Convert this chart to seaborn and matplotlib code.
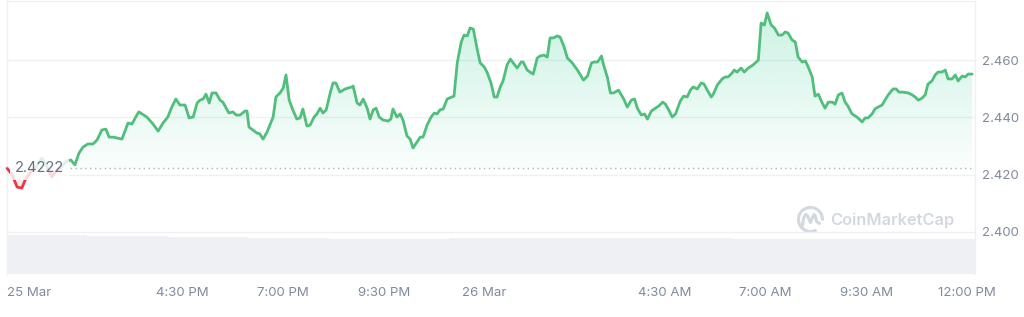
import numpy as np
import matplotlib
matplotlib.use("Agg")
import matplotlib.pyplot as plt
import seaborn as sns
from matplotlib.patches import Rectangle, Arc
from matplotlib.path import Path
from matplotlib.transforms import IdentityTransform, blended_transform_factory

# ---------------- data (hours since 00:00, 25 Mar) ----------------
hours = [12.13, 12.26, 12.38, 12.50, 12.58, 12.70, 12.83, 13.00, 13.13, 13.25,
         13.37, 13.50, 13.62, 13.72, 13.82, 13.92, 14.02, 14.14, 14.27, 14.37,
         14.49, 14.59, 14.67, 14.77, 14.87, 14.99, 15.14, 15.24, 15.36, 15.41,
         15.61, 15.76, 15.89, 16.01, 16.13, 16.23, 16.33, 16.43, 16.56, 16.66,
         16.76, 16.86, 16.93, 17.01, 17.08, 17.16, 17.23, 17.33, 17.43, 17.50,
         17.65, 17.75, 17.83, 17.93, 18.05, 18.10, 18.15, 18.35, 18.42, 18.50,
         18.60, 18.75, 18.82, 18.92, 19.00, 19.07, 19.15, 19.24, 19.34, 19.42,
         19.49, 19.59, 19.67, 19.77, 19.84, 19.92, 19.99, 20.07, 20.17, 20.24,
         20.31, 20.41, 20.54, 20.61, 20.71, 20.74, 20.84, 20.91, 20.99, 21.09,
         21.16, 21.24, 21.31, 21.39, 21.48, 21.61, 21.68, 21.73, 21.83, 21.91,
         21.98, 22.08, 22.16, 22.23, 22.41, 22.48, 22.58, 22.68, 22.76, 22.83,
         22.90, 22.98, 23.08, 23.20, 23.25, 23.33, 23.43, 23.50, 23.58, 23.65,
         23.73, 23.83, 23.90, 24.00, 24.07, 24.17, 24.25, 24.32, 24.40, 24.47,
         24.57, 24.65, 24.72, 24.82, 24.92, 24.97, 25.07, 25.14, 25.22, 25.32,
         25.39, 25.49, 25.57, 25.64, 25.72, 25.82, 25.89, 25.99, 26.07, 26.19,
         26.32, 26.47, 26.57, 26.67, 26.74, 26.82, 26.92, 26.97, 27.07, 27.14,
         27.22, 27.34, 27.46, 27.56, 27.66, 27.74, 27.81, 27.91, 27.99, 28.06,
         28.16, 28.26, 28.34, 28.44, 28.51, 28.59, 28.68, 28.76, 28.88, 28.96,
         29.05, 29.13, 29.20, 29.30, 29.40, 29.47, 29.55, 29.65, 29.70, 29.80,
         29.92, 30.00, 30.07, 30.17, 30.22, 30.29, 30.39, 30.47, 30.57, 30.69,
         30.77, 30.82, 30.89, 30.97, 31.04, 31.14, 31.22, 31.32, 31.41, 31.49,
         31.56, 31.66, 31.74, 31.81, 31.91, 31.99, 32.06, 32.16, 32.23, 32.31,
         32.41, 32.48, 32.56, 32.66, 32.73, 32.81, 32.90, 32.98, 33.05, 33.15,
         33.23, 33.30, 33.40, 33.48, 33.55, 33.65, 33.72, 33.80, 33.90, 33.97,
         34.05, 34.17, 34.25, 34.32, 34.42, 34.55, 34.65, 34.72, 34.80, 34.89,
         34.97, 35.04, 35.14, 35.22, 35.29, 35.39, 35.47, 35.54, 35.64, 35.72,
         35.79, 35.89, 35.97, 36.04, 36.14]

price = [2.4223, 2.4199, 2.4157, 2.4153, 2.4181, 2.4206, 2.4223, 2.4258, 2.4227, 2.4192,
         2.4216, 2.4230, 2.4248, 2.4251, 2.4234, 2.4275, 2.4296, 2.4307, 2.4307, 2.4321,
         2.4356, 2.4359, 2.4331, 2.4331, 2.4328, 2.4324, 2.4380, 2.4377, 2.4408, 2.4419,
         2.4401, 2.4377, 2.4352, 2.4380, 2.4401, 2.4436, 2.4464, 2.4443, 2.4443, 2.4398,
         2.4401, 2.4450, 2.4460, 2.4464, 2.4481, 2.4450, 2.4485, 2.4485, 2.4460, 2.4453,
         2.4415, 2.4419, 2.4408, 2.4408, 2.4422, 2.4422, 2.4366, 2.4345, 2.4342, 2.4324,
         2.4349, 2.4401, 2.4471, 2.4485, 2.4502, 2.4548, 2.4460, 2.4426, 2.4394, 2.4398,
         2.4429, 2.4370, 2.4373, 2.4401, 2.4412, 2.4432, 2.4415, 2.4426, 2.4485, 2.4520,
         2.4520, 2.4488, 2.4499, 2.4502, 2.4506, 2.4509, 2.4450, 2.4443, 2.4464, 2.4432,
         2.4394, 2.4426, 2.4432, 2.4401, 2.4391, 2.4387, 2.4394, 2.4429, 2.4401, 2.4412,
         2.4391, 2.4335, 2.4324, 2.4293, 2.4331, 2.4331, 2.4373, 2.4401, 2.4415, 2.4412,
         2.4426, 2.4429, 2.4464, 2.4471, 2.4474, 2.4590, 2.4663, 2.4687, 2.4684, 2.4712,
         2.4708, 2.4635, 2.4590, 2.4576, 2.4558, 2.4520, 2.4471, 2.4471, 2.4506, 2.4527,
         2.4583, 2.4603, 2.4590, 2.4572, 2.4593, 2.4593, 2.4565, 2.4558, 2.4551, 2.4607,
         2.4614, 2.4617, 2.4610, 2.4677, 2.4677, 2.4684, 2.4680, 2.4645, 2.4607, 2.4590,
         2.4565, 2.4530, 2.4544, 2.4590, 2.4593, 2.4593, 2.4614, 2.4583, 2.4537, 2.4485,
         2.4485, 2.4495, 2.4467, 2.4436, 2.4460, 2.4464, 2.4432, 2.4408, 2.4412, 2.4394,
         2.4422, 2.4432, 2.4439, 2.4453, 2.4446, 2.4426, 2.4401, 2.4412, 2.4457, 2.4474,
         2.4471, 2.4495, 2.4506, 2.4499, 2.4520, 2.4516, 2.4495, 2.4471, 2.4481, 2.4513,
         2.4534, 2.4541, 2.4541, 2.4555, 2.4565, 2.4558, 2.4572, 2.4558, 2.4572, 2.4583,
         2.4593, 2.4600, 2.4729, 2.4722, 2.4764, 2.4722, 2.4712, 2.4687, 2.4687, 2.4698,
         2.4694, 2.4670, 2.4663, 2.4610, 2.4593, 2.4597, 2.4576, 2.4541, 2.4474, 2.4481,
         2.4450, 2.4432, 2.4453, 2.4453, 2.4446, 2.4478, 2.4485, 2.4453, 2.4439, 2.4412,
         2.4405, 2.4398, 2.4384, 2.4398, 2.4398, 2.4412, 2.4429, 2.4436, 2.4443, 2.4460,
         2.4478, 2.4499, 2.4499, 2.4488, 2.4488, 2.4485, 2.4478, 2.4471, 2.4460, 2.4467,
         2.4478, 2.4516, 2.4527, 2.4548, 2.4558, 2.4558, 2.4565, 2.4534, 2.4534, 2.4548,
         2.4527, 2.4544, 2.4541, 2.4551, 2.4551]

open_price = 2.4222

vol_hours = [12.13, 13.13, 14.13, 15.13, 16.13, 17.13, 18.13, 19.13, 20.13, 21.13,
             22.13, 23.13, 24.13, 25.13, 26.13, 27.13, 28.13, 29.13, 30.13, 31.13,
             32.13, 33.13, 34.13, 35.13, 36.21]
volume = [468, 466, 458, 455, 447, 444, 436, 433, 425, 422, 423, 430, 434, 436, 435,
          434, 433, 426, 424, 423, 422, 421, 421, 420, 420]

y_ticks = [2.400, 2.420, 2.440, 2.460]
y_labels = ["2.400", "2.420", "2.440", "2.460"]
x_ticks = [12.13, 16.5, 19.0, 21.5, 24.0, 28.5, 31.0, 33.5, 36.0]
x_labels = ["25 Mar", "4:30 PM", "7:00 PM", "9:30 PM", "26 Mar",
            "4:30 AM", "7:00 AM", "9:30 AM", "12:00 PM"]

# ---------------- style ----------------
sns.set_theme(style="white")
plt.rcParams["font.family"] = ["Inter", "DejaVu Sans"]

GREEN = "#4fbf7b"
RED = "#ea3943"
TXT = "#808a9d"
GRID = "#eff0f3"

W, H = 1024, 317
fig = plt.figure(figsize=(W / 100, H / 100), dpi=100)
ax = fig.add_axes([7 / W, 1 - 274 / H, (975 - 7) / W, (274 - 1) / H])
ax2 = ax.twinx()

x0, x1 = 12.13, 36.21
y0, y1 = 2.38534, 2.48059

# volume (behind)
ax2.fill_between(vol_hours, volume, 0, step="post", color="#eff0f4", lw=0)
ax2.set_ylim(0, max(volume) * 7.0)
ax2.set_yticks([])
for s in ax2.spines.values():
    s.set_visible(False)
ax.set_zorder(ax2.get_zorder() + 1)
ax.patch.set_visible(False)

# price line green above / red below the open price
sns.lineplot(x=hours, y=price, ax=ax, color=GREEN, lw=2.0, zorder=4)
g_line = ax.lines[-1]
g_line.set_solid_joinstyle("round")
g_line.set_clip_path(Rectangle((x0 - 1, open_price), 40, 1, transform=ax.transData))
sns.lineplot(x=hours, y=price, ax=ax, color=RED, lw=2.0, zorder=4)
r_line = ax.lines[-1]
r_line.set_clip_path(Rectangle((x0 - 1, open_price - 1), 40, 1, transform=ax.transData))

hx = np.array(hours)
py = np.array(price)

def gradient_fill(where, rgb, a_far, a_near, top, bottom):
    poly = ax.fill_between(hx, py, open_price, where=where, interpolate=True,
                           color="none", lw=0)
    paths = poly.get_paths()
    if not paths:
        return
    cpath = Path.make_compound_path(*paths)
    n = 256
    grad = np.zeros((n, 1, 4))
    c = matplotlib.colors.to_rgb(rgb)
    grad[:, 0, :3] = c
    grad[:, 0, 3] = np.linspace(a_far, a_near, n)
    im = ax.imshow(grad, aspect="auto", extent=[x0, x1, bottom, top],
                   origin="upper", zorder=2, interpolation="bilinear")
    im.set_clip_path(cpath, transform=ax.transData)

gradient_fill(py >= open_price, "#16c784", 0.22, 0.02, max(price), open_price)
gradient_fill(py <= open_price, RED, 0.03, 0.15, open_price, min(price))

# open price dotted line
ax.axhline(open_price, color="#a7b1c2", lw=1.0, ls=(0, (1, 2.5)), zorder=3)

# open price label
lbl_tr = blended_transform_factory(ax.transAxes, ax.transData)
ax.text(0.008, open_price, "2.4222", transform=lbl_tr, ha="left", va="center",
        fontsize=10.5, color="#616e85", zorder=6,
        bbox=dict(boxstyle="square,pad=0.35", fc="white", ec="none", alpha=0.8))

# axes, ticks
ax.set_xlim(x0, x1)
ax.set_ylim(y0, y1)
ax2.set_xlim(x0, x1)
ax.yaxis.tick_right()
ax.set_yticks(y_ticks)
ax.set_yticklabels(y_labels)
ax.set_xticks(x_ticks)
ax.set_xticklabels(x_labels)
ax.tick_params(axis="y", length=0, pad=5, labelsize=9.5, labelcolor=TXT)
ax.tick_params(axis="x", length=0, pad=9.5, labelsize=9.5, labelcolor=TXT)
ax.get_xticklabels()[0].set_ha("left")
ax.set_xlabel("")
ax.set_ylabel("")
ax.yaxis.grid(True, color=GRID, lw=1.0, zorder=1)
ax.xaxis.grid(False)
for side in ["top", "left", "right"]:
    ax.spines[side].set_color(GRID)
    ax.spines[side].set_linewidth(1.0)
ax.spines["bottom"].set_visible(False)

# watermark
WM = "#d3d8e0"
fig.text(830 / W, 1 - 220 / H, "CoinMarketCap", fontsize=11.8, fontweight="semibold",
         color=WM, ha="left", va="center")
cx, cy = 810.5, H - 219.5
fig.add_artist(Arc((cx, cy), 24, 24, theta1=-5, theta2=300, transform=IdentityTransform(),
                   color=WM, lw=2.2))
m_x = [cx - 8, cx - 7, cx - 5, cx - 3, cx - 1.5, cx, cx + 1.5, cx + 3.5, cx + 5, cx + 6, cx + 9]
m_y = [cy - 6, cy + 1, cy + 5, cy + 4, cy + 0, cy - 3, cy + 1, cy + 5, cy + 3, cy - 2, cy - 4]
fig.add_artist(matplotlib.lines.Line2D(m_x, m_y, transform=IdentityTransform(), color=WM,
                                       lw=2.2, solid_joinstyle="round",
                                       solid_capstyle="round"))

fig.savefig("out.png", dpi=100, facecolor="white")
